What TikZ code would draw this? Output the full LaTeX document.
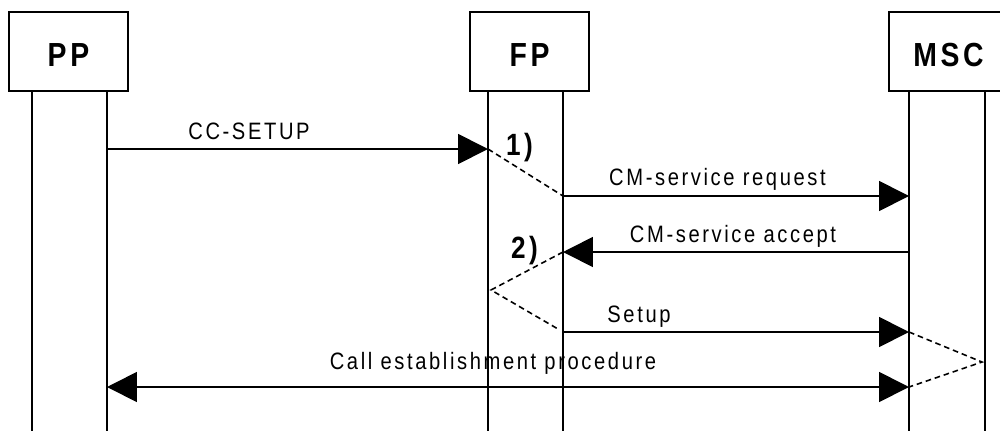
\documentclass[tikz,border=0pt]{standalone}
\usepackage{fontspec}
\setmainfont{Liberation Sans}[LetterSpace=11,FakeStretch=0.85]
\usetikzlibrary{arrows.meta}

\tikzset{
	entity/.style={draw,line width=1pt,minimum width=2.38cm,minimum height=1.58cm,inner sep=0pt,
		text height=17.6pt,text depth=0pt,font=\fontsize{19}{19}\selectfont\bfseries},
	lifeline/.style={line width=1pt},
	msg/.style={line width=1pt,-{Triangle[length=17pt,width=17pt]}},
	dblmsg/.style={line width=1pt,{Triangle[length=17pt,width=17pt]}-{Triangle[length=17pt,width=17pt]}},
	hint/.style={line width=.9pt,dash pattern=on 3.2pt off 2.2pt},
	lbl/.style={anchor=base,inner sep=0pt,font=\fontsize{13.5}{13.5}\selectfont},
	mark label/.style={inner sep=0pt,font=\fontsize{17.5}{17.5}\selectfont\bfseries}
}

\begin{document}
\begin{tikzpicture}[x=.02cm,y=-.02cm]
	\useasboundingbox (0,0) rectangle (1000,430);
	\clip (0,0) rectangle (1000,430);

	\node[entity] (pp) at (68.5,51.5) {PP};
	\node[entity] (fp) at (529.5,51.5) {FP};
	\node[entity] (msc) at (948.5,51.5) {MSC};

	\foreach \name/\x in {ppL/32,ppR/107,fpL/488,fpR/563,mscL/909,mscR/985}{
		\coordinate (\name-top) at (\x,91);
		\coordinate (\name-bot) at (\x,432);
		\draw[lifeline] (\name-top) -- (\name-bot);
	}

	\coordinate (cc-a) at (107,149);
	\coordinate (cc-b) at (488,149);
	\coordinate (req-a) at (563,196);
	\coordinate (req-b) at (909,196);
	\coordinate (acc-a) at (909,252);
	\coordinate (acc-b) at (563,252);
	\coordinate (set-a) at (563,332);
	\coordinate (set-b) at (909,332);
	\coordinate (call-a) at (107,387);
	\coordinate (call-b) at (909,387);
	\coordinate (fp-bend) at (491,290);
	\coordinate (fp-end) at (558,329);
	\coordinate (msc-bend) at (982,362);

	\draw[msg] (cc-a) -- (cc-b);
	\draw[msg] (req-a) -- (req-b);
	\draw[msg] (acc-a) -- (acc-b);
	\draw[msg] (set-a) -- (set-b);
	\draw[dblmsg] (call-a) -- (call-b);

	\draw[hint] (cc-b) -- (req-a);
	\draw[hint] (acc-b) -- (fp-bend) -- (fp-end);
	\draw[hint] (set-b) -- (msc-bend) -- (call-b);

	\node[lbl] (cc-lbl) at (249,139) {CC-SETUP};
	\node[lbl] (req-lbl) at (717.5,185) {CM-service request};
	\node[lbl] (acc-lbl) at (733,242) {CM-service accept};
	\node[lbl] (set-lbl) at (639,322) {Setup};
	\node[lbl] (call-lbl) at (493,369) {Call establishment procedure};

	\node[mark label] (one) at (519.5,147.5) {1)};
	\node[mark label] (two) at (524.5,251) {2)};
\end{tikzpicture}
\end{document}
